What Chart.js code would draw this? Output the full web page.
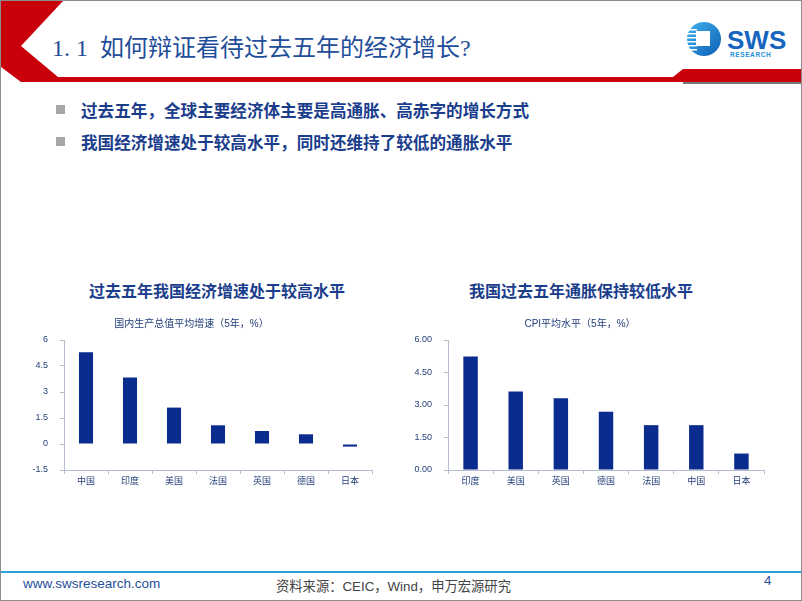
<!DOCTYPE html>
<html>
<head>
<meta charset="utf-8">
<script src="https://cdn.jsdelivr.net/npm/chart.js@4"></script>
<style>
  body { margin: 0; background: #fff; }
  #slide { position: relative; width: 800px; height: 599px; border: 1px solid #8c8c8c; overflow: hidden; background: #fff;
    font-family: "Liberation Sans", "Noto Sans CJK SC", sans-serif; }
  #deco { position: absolute; left: 0; top: 0; }
  .title { position: absolute; left: 51px; top: 27px; font-family: "Liberation Serif", "Noto Sans CJK SC", serif; font-size: 24px; color: #1f4e9a; }
  .bullet { position: absolute; left: 80px; font-size: 16.6px; font-weight: bold; color: #1a3d8c; }
  .sq { position: absolute; left: 55px; width: 9px; height: 9px; background: #a6a6a6; }
  .sub { position: absolute; top: 277px; font-size: 16px; font-weight: bold; color: #1a3d8c; }
  canvas { position: absolute; }
  .foot { position: absolute; top: 575px; font-size: 13.3px; }
</style>
</head>
<body>
<div id="slide">
  <svg id="deco" width="802" height="601">
    <polygon points="0,0 62,0 20,45 57,76 672,76 682,68 802,68 802,81 20,81 0,66" fill="#c9000b"/>
    <rect x="682" y="81" width="120" height="2" fill="#777"/>
    <defs>
      <linearGradient id="lg" x1="0" y1="0" x2="1" y2="1">
        <stop offset="0" stop-color="#45b4ee"/>
        <stop offset="1" stop-color="#0a5db5"/>
      </linearGradient>
    </defs>
    <circle cx="703" cy="38" r="17" fill="url(#lg)"/>
    <g fill="#fff">
      <rect x="686" y="28" width="10" height="1.5"/>
      <rect x="686" y="32" width="10" height="1.5"/>
      <rect x="686" y="36" width="10" height="1.5"/>
      <rect x="686" y="40" width="10" height="1.5"/>
      <rect x="686" y="44" width="10" height="1.5"/>
      <rect x="686" y="48" width="10" height="1.5"/>
      <rect x="695" y="30" width="14" height="15"/>
    </g>
    <text x="726" y="48" font-family="Liberation Sans" font-weight="bold" font-size="26" fill="#1565c0">SWS</text>
    <text x="729" y="56" font-family="Liberation Sans" font-weight="bold" font-size="6.5" fill="#1e8fd8" letter-spacing="0.6">RESEARCH</text>
    <rect x="0" y="570" width="802" height="2" fill="#2aa2dc"/>
  </svg>
  <div class="title">1. 1&nbsp; 如何辩证看待过去五年的经济增长?</div>
  <div class="sq" style="top:104px"></div>
  <div class="bullet" style="top:97px">过去五年，全球主要经济体主要是高通胀、高赤字的增长方式</div>
  <div class="sq" style="top:136px"></div>
  <div class="bullet" style="top:129px">我国经济增速处于较高水平，同时还维持了较低的通胀水平</div>
  <div class="sub" style="left:88px">过去五年我国经济增速处于较高水平</div>
  <div class="sub" style="left:468px">我国过去五年通胀保持较低水平</div>
  <canvas id="gdp" width="375" height="190" style="left:10px;top:305px"></canvas>
  <canvas id="cpi" width="380" height="190" style="left:395px;top:305px"></canvas>
  <div class="foot" style="left:22px;color:#1f4e9a;font-size:13.5px">www.swsresearch.com</div>
  <div class="foot" style="left:275px;color:#444">资料来源：CEIC，Wind，申万宏源研究</div>
  <div class="foot" style="left:763px;top:572px;color:#1f4e9a">4</div>
</div>
<script>
// chart data
const gdpCountries = ['中国', '印度', '美国', '法国', '英国', '德国', '日本']
const gdpGrowth = [5.3, 3.83, 2.1, 1.08, 0.75, 0.56, -0.15]
const gdpTicks = [-1.5, 0, 1.5, 3, 4.5, 6]

const cpiCountries = ['印度', '美国', '英国', '德国', '法国', '中国', '日本']
const cpiLevel = [5.24, 3.62, 3.31, 2.69, 2.07, 2.07, 0.76]
const cpiTicks = [0, 1.5, 3, 4.5, 6]

const barColor = '#0a2c8e'
const axisColor = '#b4bccf'
const textColor = '#24407a'
const font = { family: '"Liberation Sans", "Noto Sans CJK SC", sans-serif', size: 9 }

const makeChart = (id, labels, values, ticks, title, yWidth, padRight, fmt) => {
    new Chart(id, {
        type: 'bar',
        data: {
            labels: labels,
            datasets: [{
                data: values,
                backgroundColor: barColor,
                barPercentage: 0.32,
                categoryPercentage: 1
            }]
        },
        options: {
            responsive: false,
            animation: false,
            layout: { padding: { right: padRight, top: 0, bottom: 0, left: 0 } },
            plugins: {
                legend: { display: false },
                tooltip: { enabled: false },
                title: {
                    display: true,
                    text: title,
                    color: textColor,
                    font: { family: font.family, size: 10, weight: 'normal' },
                    padding: { top: 12, bottom: 10 }
                }
            },
            scales: {
                x: {
                    grid: { drawOnChartArea: false, drawTicks: true, tickLength: 4, color: axisColor, offset: true },
                    border: { color: axisColor },
                    ticks: { color: textColor, font: font, padding: 2, maxRotation: 0 },
                    afterFit: (s) => { s.height = 26 }
                },
                y: {
                    min: ticks[0],
                    max: ticks[ticks.length - 1],
                    afterBuildTicks: (s) => { s.ticks = ticks.map(v => ({ value: v })) },
                    grid: { drawOnChartArea: false, drawTicks: true, tickLength: 4, color: axisColor },
                    border: { color: axisColor },
                    ticks: { color: textColor, font: font, padding: 12, callback: fmt },
                    afterFit: (s) => { s.width = yWidth }
                }
            }
        }
    })
}

makeChart('gdp', gdpCountries, gdpGrowth, gdpTicks, '国内生产总值平均增速（5年，%）', 53, 14, (v) => String(v))
makeChart('cpi', cpiCountries, cpiLevel, cpiTicks, 'CPI平均水平（5年，%）', 52, 12, (v) => v.toFixed(2))
</script>
</body>
</html>
